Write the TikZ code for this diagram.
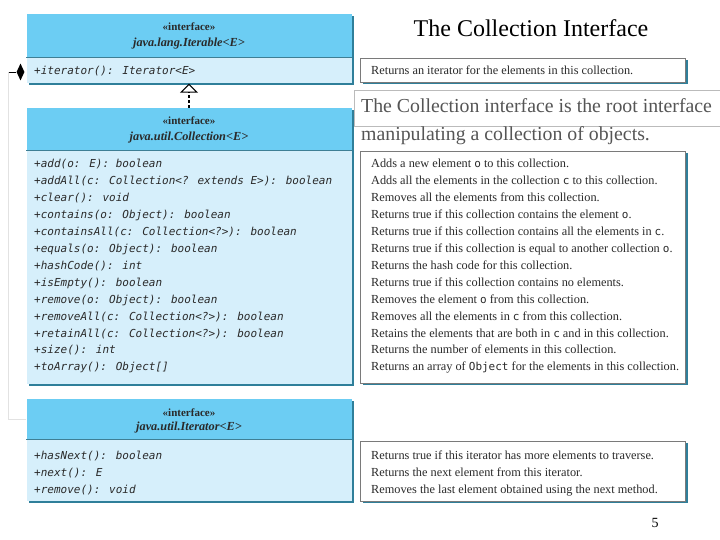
\documentclass[tikz,border=0pt]{standalone}
\usepackage{fontspec}
\setmainfont{Liberation Serif}
\newfontfamily\monof{DejaVu Sans Mono}
\newcommand\cw[1]{{\monof\fontsize{11}{13}\selectfont #1}}
\usetikzlibrary{shadows,arrows.meta,shapes.geometric}
\definecolor{hdrc}{HTML}{6CCDF3}
\definecolor{bodyc}{HTML}{D6EFFB}
\definecolor{shadowc}{HTML}{2F7F9A}
\definecolor{sepc}{HTML}{3E7F95}
\definecolor{descborder}{HTML}{7A7A7A}
\definecolor{txtc}{HTML}{2A2A2A}
\definecolor{graytxt}{HTML}{555555}
\definecolor{faintc}{HTML}{E2E2E2}
\begin{document}
\begin{tikzpicture}[x=1pt,y=-1pt,
  boxbase/.style={rectangle, inner sep=0pt, minimum width=325pt,
    general shadow={fill=shadowc, shadow xshift=2pt, shadow yshift=-2pt}},
  hdr/.style={boxbase, fill=hdrc},
  body/.style={boxbase, fill=bodyc},
  desc/.style={boxbase, fill=white, draw=descborder, line width=0.6pt},
  txt/.style={anchor=base west, inner sep=0pt, text=txtc},
  ctxt/.style={anchor=base, inner sep=0pt, text=txtc},
  meth/.style={txt, font=\monof\itshape\fontsize{11}{13}\selectfont},
  dtxt/.style={txt, font=\fontsize{12.3}{14}\selectfont},
  stereo/.style={ctxt, font=\bfseries\fontsize{11}{12}\selectfont},
  iname/.style={ctxt, font=\bfseries\itshape\fontsize{12.3}{14}\selectfont}
]
\useasboundingbox (0,0) rectangle (720,540);
\fill[white] (0,0) rectangle (720,540);

% Title
\node[anchor=base, inner sep=0pt, font=\fontsize{24}{28}\selectfont] (title) at (531,37) {The Collection Interface};

% Iterable
\node[hdr, minimum height=43pt] (iterhead) at (189,36) {};
\node[body, minimum height=26pt] (iterbody) at (189,70.5) {};
\draw[sepc, line width=0.8pt] (iterhead.south west) -- (iterhead.south east);
\node[stereo] (s1) at (189,30.5) {«interface»};
\node[iname] (n1) at (189,46.5) {java.lang.Iterable<E>};
\node[meth] (m1) at (34,75) {+iterator(): Iterator<E>};

\node[desc, minimum height=24pt] (desc1) at (523,70) {};
\node[dtxt] (dd1) at (371,75) {Returns an iterator for the elements in this collection.};

% Overlay text box
\draw[graytxt!40, line width=0.6pt] (720,90.5) -| (354,126) -- (720,126);
\node[anchor=base west, inner sep=0pt, text=graytxt, font=\fontsize{19.8}{23}\selectfont] (ov1) at (361,112.5) {The Collection interface is the root interface};
\node[anchor=base west, inner sep=0pt, text=graytxt, font=\fontsize{19.8}{23}\selectfont] (ov2) at (361,140.5) {manipulating a collection of objects.};

% Collection
\node[hdr, minimum height=42pt] (collhead) at (189,129) {};
\node[body, minimum height=234pt] (collbody) at (189,267) {};
\draw[sepc, line width=0.8pt] (collhead.south west) -- (collhead.south east);
\node[stereo] (s2) at (189,125) {«interface»};
\node[iname] (n2) at (189,140.5) {java.util.Collection<E>};

\foreach \t [count=\i from 0] in {
  {+add(o: E): boolean},
  {+addAll(c: Collection<? extends E>): boolean},
  {+clear(): void},
  {+contains(o: Object): boolean},
  {+containsAll(c: Collection<?>): boolean},
  {+equals(o: Object): boolean},
  {+hashCode(): int},
  {+isEmpty(): boolean},
  {+remove(o: Object): boolean},
  {+removeAll(c: Collection<?>): boolean},
  {+retainAll(c: Collection<?>): boolean},
  {+size(): int},
  {+toArray(): Object[]}}
  \node[meth] (cm\i) at (34,168+16.9*\i) {\t};

\node[desc, minimum height=232pt] (desc2) at (523,267) {};
\foreach \t [count=\i from 0] in {
  {Adds a new element \cw{o} to this collection.},
  {Adds all the elements in the collection \cw{c} to this collection.},
  {Removes all the elements from this collection.},
  {Returns true if this collection contains the element \cw{o}.},
  {Returns true if this collection contains all the elements in \cw{c}.},
  {Returns true if this collection is equal to another collection \cw{o}.},
  {Returns the hash code for this collection.},
  {Returns true if this collection contains no elements.},
  {Removes the element \cw{o} from this collection.},
  {Removes all the elements in \cw{c} from this collection.},
  {Retains the elements that are both in \cw{c} and in this collection.},
  {Returns the number of elements in this collection.},
  {Returns an array of \cw{Object} for the elements in this collection.}}
  \node[dtxt] (cd\i) at (371,168+16.9*\i) {\t};

% Iterator
\node[hdr, minimum height=40pt] (itrhead) at (189,419) {};
\node[body, minimum height=62pt] (itrbody) at (189,470) {};
\draw[sepc, line width=0.8pt] (itrhead.south west) -- (itrhead.south east);
\node[stereo] (s3) at (189,416.5) {«interface»};
\node[iname] (n3) at (189,430.5) {java.util.Iterator<E>};
\foreach \t [count=\i from 0] in {
  {+hasNext(): boolean},
  {+next(): E},
  {+remove(): void}}
  \node[meth] (im\i) at (34,459+17*\i) {\t};

\node[desc, minimum height=60pt] (desc3) at (523,471) {};
\foreach \t [count=\i from 0] in {
  {Returns true if this iterator has more elements to traverse.},
  {Returns the next element from this iterator.},
  {Removes the last element obtained using the next method.}}
  \node[dtxt] (id\i) at (371,459+17*\i) {\t};

% Realization arrow (Collection -> Iterable)
\draw[line width=1.3pt, dash pattern=on 3pt off 2pt,
  -{Triangle[open, width=18pt, length=9pt, line width=1pt]}]
  (collhead.north) -- (iterbody.south);

% Composition connector (Iterator -> Iterable)
\node[diamond, fill=black, inner sep=0pt, minimum width=8pt, minimum height=17pt] (dia) at (20.5,72) {};
\coordinate (ctop) at (8.5,72);
\draw[faintc, line width=0.8pt] (itrhead.west) -| (ctop);
\draw[black, line width=0.8pt] (ctop) -- (dia.west);

% Page number
\node[anchor=base, inner sep=0pt, font=\fontsize{14}{16}\selectfont] (pg) at (655,527) {5};
\end{tikzpicture}
\end{document}
